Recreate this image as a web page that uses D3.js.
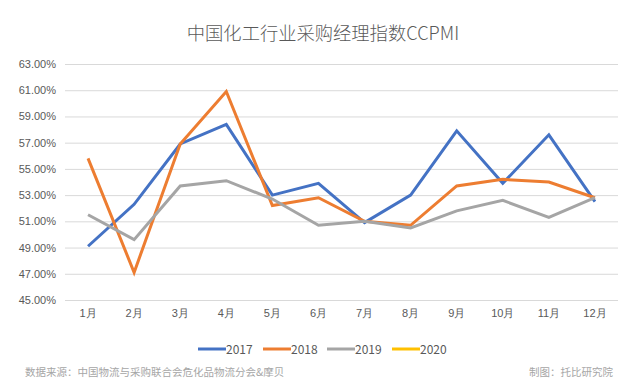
<!DOCTYPE html>
<html><head><meta charset="utf-8">
<script src="https://cdn.jsdelivr.net/npm/d3@7/dist/d3.min.js"></script>
<style>
body{margin:0;background:#fff;}
svg{display:block;font-family:"Noto Sans CJK SC","Noto Sans",sans-serif;}
</style></head>
<body><svg id="chart" width="640" height="388"></svg>
<script>
const months = ["1月","2月","3月","4月","5月","6月","7月","8月","9月","10月","11月","12月"];
const seriesNames = ["2017","2018","2019","2020"];
const seriesColors = ["#4472C4","#ED7D31","#A5A5A5","#FFC000"];
const v2017 = [49.1,52.3,56.9,58.4,53.0,53.9,50.9,53.0,57.9,53.9,57.6,52.5];
const v2018 = [55.8,47.1,56.9,60.9,52.2,52.8,51.0,50.7,53.7,54.2,54.0,52.8];
const v2019 = [51.5,49.6,53.7,54.1,52.7,50.7,51.0,50.5,51.8,52.6,51.3,52.8];
const v2020 = [];
const yTicks = [45,47,49,51,53,55,57,59,61,63];

(function(){
const seriesValues = [v2017,v2018,v2019,v2020];
const svg = d3.select("#chart");
const mLeft = 65, mRight = 618, mTop = 64, mBottom = 300;

const x = d3.scaleBand().domain(months).range([mLeft,mRight]);
const y = d3.scaleLinear().domain([45,63]).range([mBottom,mTop]);

svg.append("text").attr("x",323).attr("y",40).attr("text-anchor","middle")
  .attr("font-size",18.3).attr("font-weight",300).attr("fill","#595959").text("中国化工行业采购经理指数CCPMI");

const ya = svg.append("g").attr("transform",`translate(${mLeft},0)`)
  .call(d3.axisLeft(y).tickValues(yTicks).tickSize(-(mRight-mLeft)).tickFormat(d=>d.toFixed(2)+"%"));
ya.select(".domain").remove();
ya.selectAll(".tick line").attr("stroke","#d9d9d9");
ya.selectAll(".tick text").attr("fill","#595959").attr("font-size",11).attr("x",-9);

const xa = svg.append("g").attr("transform",`translate(0,${mBottom})`)
  .call(d3.axisBottom(x).tickSize(0));
xa.select(".domain").remove();
xa.selectAll(".tick text").attr("fill","#595959").attr("font-size",11).attr("dy","1.3em");

const line = d3.line().x((d,i)=>x(months[i])+x.bandwidth()/2).y(d=>y(d));
seriesValues.forEach((vals,k)=>{
  if(!vals.length) return;
  svg.append("path").datum(vals).attr("d",line).attr("fill","none")
    .attr("stroke",seriesColors[k]).attr("stroke-width",3).attr("stroke-linejoin","miter");
});

const legX = [198,263,327,392];
seriesNames.forEach((n,k)=>{
  const g = svg.append("g").attr("transform",`translate(${legX[k]},349)`);
  g.append("line").attr("x1",0).attr("x2",28).attr("y1",0).attr("y2",0)
    .attr("stroke",seriesColors[k]).attr("stroke-width",3);
  g.append("text").attr("x",28).attr("y",4.5).attr("font-size",12).attr("fill","#595959").text(n);
});

svg.append("text").attr("x",25).attr("y",376).attr("font-size",10.5).attr("fill","#a6a6a6")
  .text("数据来源：中国物流与采购联合会危化品物流分会&摩贝");
svg.append("text").attr("x",613).attr("y",376).attr("text-anchor","end").attr("font-size",10.5).attr("fill","#a6a6a6")
  .text("制图：托比研究院");
})();
</script></body></html>
